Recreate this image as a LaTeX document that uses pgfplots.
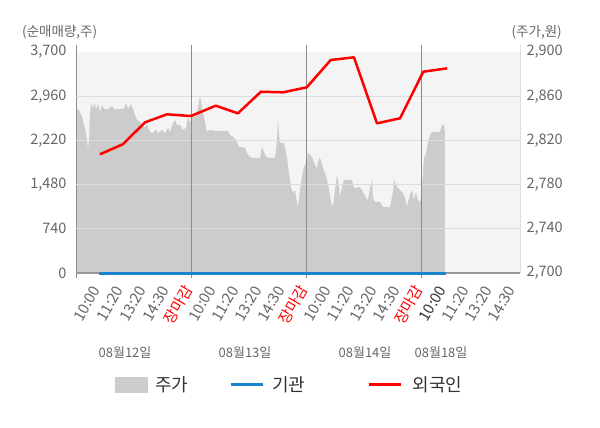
\documentclass[border=0pt]{standalone}
\usepackage{pgfplots}
\pgfplotsset{compat=1.18}
\usepackage{fontspec}
\setmainfont{Noto Sans CJK KR}
\definecolor{areagray}{HTML}{CCCCCC}
\definecolor{bggray}{HTML}{F4F4F4}
\definecolor{gridc}{HTML}{DDDDDD}
\definecolor{sepc}{HTML}{8C8C8C}
\definecolor{txt}{HTML}{666666}
\definecolor{legtxt}{HTML}{333333}
\definecolor{blueline}{HTML}{1A84CF}
\definecolor{redline}{HTML}{FF0000}
\newcommand{\fs}[1]{\fontsize{#1bp}{#1bp}\selectfont}
\begin{document}
\begin{tikzpicture}
\path[use as bounding box] (0bp,0bp) rectangle (600bp,-428bp);
% ---------- right axis: price area ----------
\begin{axis}[
  at={(76bp,-273bp)}, anchor=south west,
  width=444bp, height=228bp, scale only axis,
  xmin=0, xmax=19.28, ymin=2700, ymax=2906.3,
  axis x line=none, axis y line*=right,
  y axis line style={-, color=gridc, line width=1bp},
  ytick={2700,2740,2780,2820,2860,2900},
  major tick length=0,
  yticklabel style={font=\fs{14.5}, text=txt, anchor=west, xshift=3bp},
  /pgf/number format/.cd, 1000 sep={,}, assume math mode=true,
]
\fill[bggray] (axis cs:0,2700) rectangle (axis cs:19.28,2900);
\addplot[fill=areagray, draw=none] coordinates {
(0,2700)
(0,2848.4) (0.130,2847.5) (0.261,2841.2) (0.347,2833.9) (0.434,2826.7) (0.478,2820.4)
(0.521,2812.2) (0.564,2820.4) (0.608,2843.0) (0.651,2853.9) (0.738,2849.3) (0.825,2853.9)
(0.868,2847.5) (0.955,2852.9) (1.042,2845.7) (1.129,2852.0) (1.216,2848.4) (1.389,2848.4)
(1.563,2851.1) (1.650,2848.4) (1.911,2848.4) (2.084,2848.4) (2.171,2853.9) (2.258,2848.4)
(2.388,2852.9) (2.475,2848.4) (2.562,2843.0) (2.649,2838.5) (2.779,2836.7) (2.953,2832.1)
(3.083,2833.9) (3.213,2827.6) (3.343,2826.7) (3.474,2829.4) (3.561,2826.7) (3.734,2829.4)
(3.865,2826.7) (3.995,2831.2) (4.082,2827.6) (4.212,2835.8) (4.299,2838.5) (4.386,2833.9)
(4.516,2833.9) (4.646,2829.4) (4.776,2831.2) (4.863,2841.2) (4.950,2835.8) (5.037,2843.0)
(5.167,2840.3) (5.297,2849.3) (5.341,2856.6) (5.384,2858.4) (5.428,2856.6) (5.471,2847.5)
(5.558,2841.2) (5.688,2827.6) (5.819,2829.4) (6.036,2828.5) (6.600,2828.5) (6.687,2824.9)
(6.817,2823.1) (6.947,2820.4) (7.034,2815.8) (7.121,2814.0) (7.338,2813.1) (7.425,2808.6)
(7.555,2805.0) (7.686,2804.1) (7.990,2804.1) (8.076,2814.0) (8.163,2809.5) (8.250,2805.0)
(8.424,2804.1) (8.641,2804.1) (8.684,2811.3) (8.728,2820.4) (8.771,2838.5) (8.815,2824.9)
(8.858,2817.7) (8.988,2817.7) (9.075,2814.0) (9.162,2804.1) (9.249,2790.5) (9.336,2777.8)
(9.423,2772.4) (9.509,2775.1) (9.596,2763.4) (9.640,2759.7) (9.727,2775.1) (9.813,2786.9)
(9.900,2795.9) (9.987,2799.6) (10.074,2808.6) (10.160,2806.8) (10.247,2805.0) (10.378,2797.7)
(10.465,2795.0) (10.551,2804.1) (10.638,2802.3) (10.725,2795.0) (10.812,2790.5) (10.899,2784.2)
(10.986,2775.1) (11.072,2764.3) (11.159,2759.7) (11.246,2775.1) (11.333,2788.7) (11.420,2777.8)
(11.463,2768.8) (11.550,2777.8) (11.637,2784.2) (11.984,2784.2) (12.071,2776.9) (12.332,2777.8)
(12.462,2773.3) (12.592,2767.9) (12.679,2766.1) (12.766,2776.9) (12.853,2784.2) (12.896,2767.9)
(12.983,2764.3) (13.200,2764.3) (13.330,2759.7) (13.634,2759.7) (13.765,2773.3) (13.808,2784.2)
(13.938,2777.8) (14.068,2775.1) (14.199,2772.4) (14.286,2767.9) (14.372,2759.7) (14.416,2764.3)
(14.503,2770.6) (14.589,2775.1) (14.676,2766.1) (14.763,2773.3) (14.850,2766.1) (14.937,2763.4)
(15.024,2777.8) (15.067,2790.5) (15.111,2804.1) (15.198,2808.6) (15.284,2817.7) (15.371,2824.9)
(15.458,2827.6) (15.806,2827.6) (15.892,2833.9) (15.979,2833.9) (16.023,2827.6)
(16.023,2700)
};
\end{axis}
% ---------- left axis: net volume ----------
\begin{axis}[
  at={(76bp,-273bp)}, anchor=south west,
  width=444bp, height=228bp, scale only axis,
  xmin=0, xmax=19.28, ymin=0, ymax=3817.2,
  clip=false,
  axis y line*=left, axis x line*=bottom,
  y axis line style={-, color=sepc, line width=1bp},
  x axis line style={-, color=black!40, line width=1.2bp},
  ytick={0,740,1480,2220,2960,3700},
  extra y ticks={740,1480,2220,2960},
  extra y tick labels={},
  extra y tick style={grid=major, major grid style={gridc, line width=1bp}},
  xtick={1,...,19},
  xticklabels={10:00,11:20,13:20,14:30,\textcolor{redline}{장마감},
               10:00,11:20,13:20,14:30,\textcolor{redline}{장마감},
               10:00,11:20,13:20,14:30,\textcolor{redline}{장마감},
               \textcolor{legtxt}{10:00},11:20,13:20,14:30},
  major tick length=0,
  xticklabel style={font=\fs{15}, text=txt, inner sep=0pt, xshift=-2.5bp, yshift=-14bp, rotate=60, anchor=east},
  yticklabel style={font=\fs{14.5}, text=txt, anchor=east, xshift=-6bp},
  /pgf/number format/.cd, 1000 sep={,}, assume math mode=true,
  /pgfplots/.cd,
  legend columns=3,
  legend style={draw=none, fill=none, at={(0.4786,-0.4912)}, anchor=center,
    font=\fs{18}, text=legtxt,
    nodes={inner xsep=0pt, inner ysep=1bp},
    /tikz/column sep=0pt},
]
\draw[sepc, line width=1bp] (axis cs:0,-84) -- (axis cs:0,0);
\draw[sepc, line width=1bp] (axis cs:5,-84) -- (axis cs:5,3817.2);
\draw[sepc, line width=1bp] (axis cs:10,-84) -- (axis cs:10,3817.2);
\draw[sepc, line width=1bp] (axis cs:15,-84) -- (axis cs:15,3817.2);
\addlegendimage{legend image code/.code={\fill[areagray] (0bp,-7.5bp) rectangle (32bp,7.5bp);}}
\addlegendentry{\kern8bp 주가\kern41bp\null}
\addplot[blueline, line width=3bp, legend image code/.code={\draw[blueline, line width=3bp] (0bp,0bp) -- (32bp,0bp);}] coordinates {
(1,0) (2,0) (3,0) (4,0) (5,0) (6,0) (7,0) (8,0) (9,0) (10,0) (11,0) (12,0) (13,0) (14,0) (15,0) (16.05,0)
};
\addlegendentry{\kern8bp 기관\kern62bp\null}
\addplot[redline, line width=2.5bp, line join=round, legend image code/.code={\draw[redline, line width=3bp] (0bp,0bp) -- (32bp,0bp);}] coordinates {
(1.04,1987) (2.03,2155) (3.0,2523) (3.95,2657) (4.99,2628) (6.07,2801) (7.03,2673) (8.03,3035)
(8.99,3025) (10.02,3109) (11.06,3566) (12.07,3611) (13.07,2506) (14.07,2590) (15.08,3370) (16.12,3427)
};
\addlegendentry{\kern10bp 외국인}
\end{axis}
% ---------- titles and date labels ----------
\node[anchor=west, text=txt, font=\fs{13.5}, inner sep=0pt] at (22bp,-32bp) {(순매매량,주)};
\node[anchor=east, text=txt, font=\fs{13.5}, inner sep=0pt] at (562bp,-32bp) {(주가,원)};
\node[text=txt, font=\fs{13}, inner sep=0pt] at (125bp,-353bp) {08월12일};
\node[text=txt, font=\fs{13}, inner sep=0pt] at (245bp,-353bp) {08월13일};
\node[text=txt, font=\fs{13}, inner sep=0pt] at (365bp,-353bp) {08월14일};
\node[text=txt, font=\fs{13}, inner sep=0pt] at (441bp,-353bp) {08월18일};
\end{tikzpicture}
\end{document}
